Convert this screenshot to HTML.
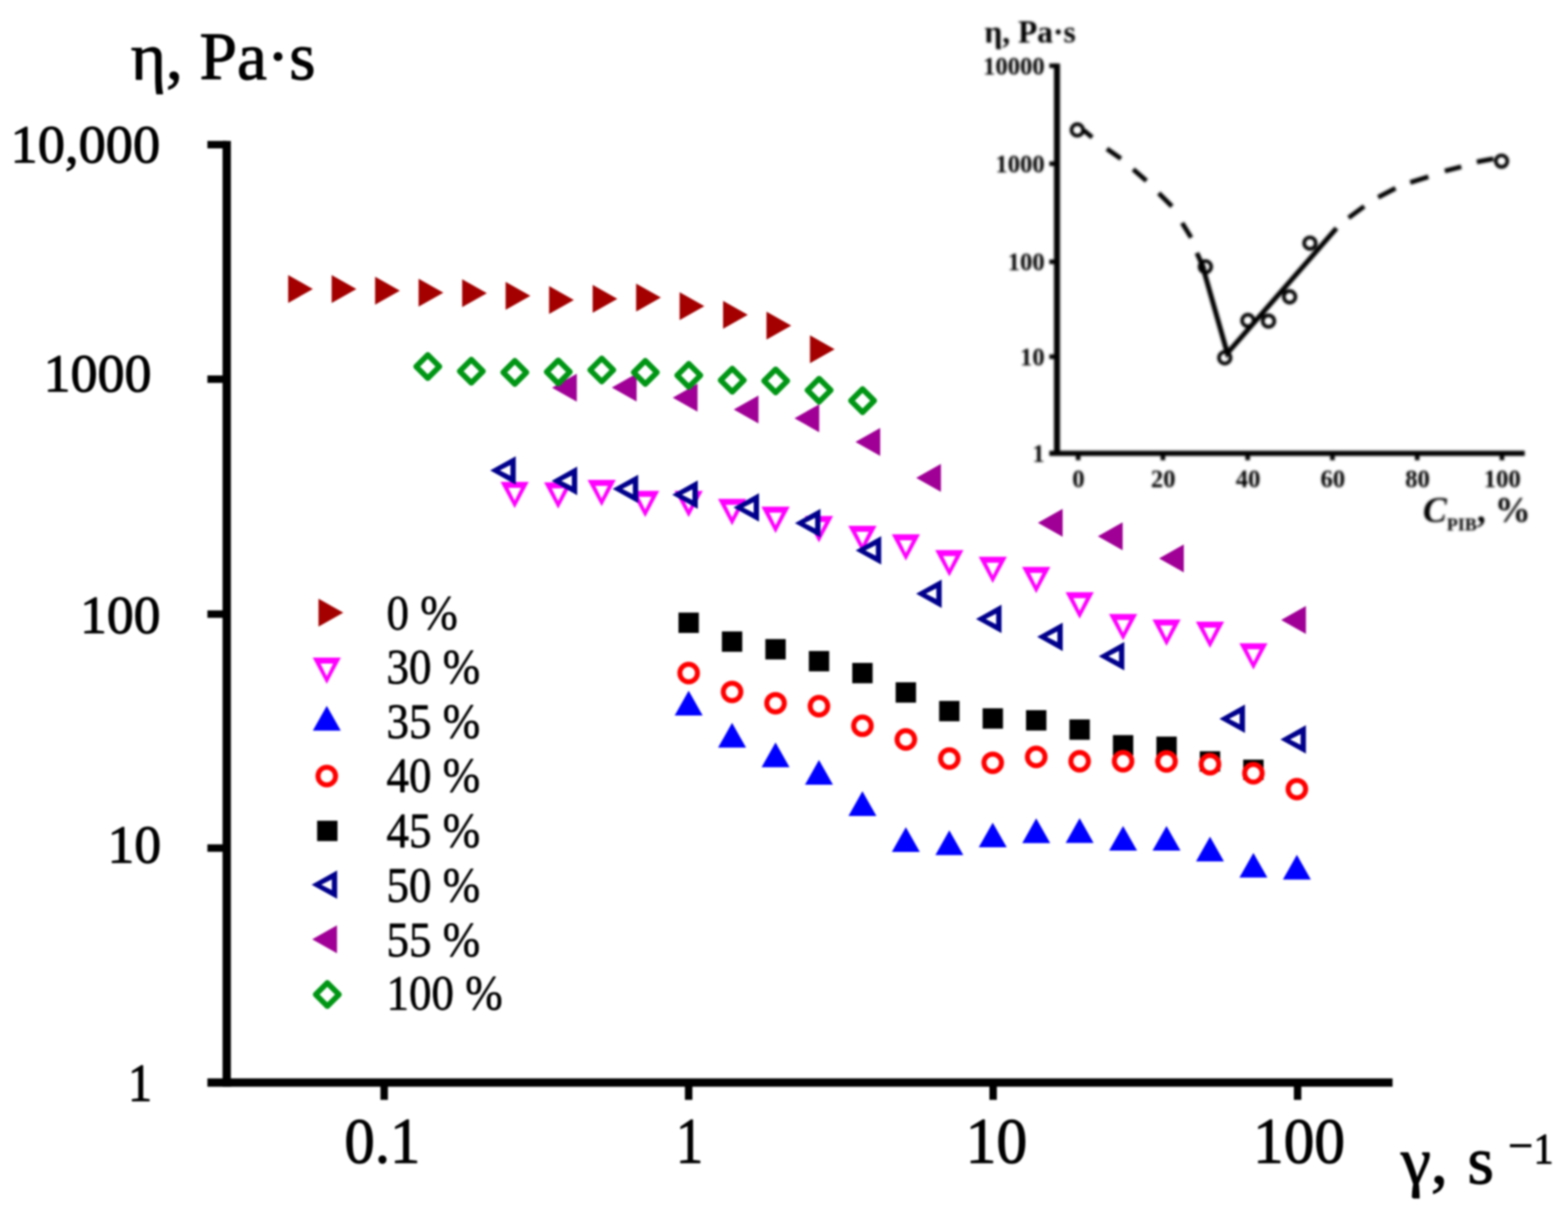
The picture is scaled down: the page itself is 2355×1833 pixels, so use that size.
<!DOCTYPE html>
<html lang="en"><head><meta charset="utf-8"><title>Viscosity vs shear rate</title>
<style>
html,body{margin:0;padding:0;background:#fff;}
body{width:2355px;height:1833px;overflow:hidden;}
svg{display:block;}
text{font-family:"Liberation Serif","DejaVu Serif",serif;fill:#000;}
.b{font-weight:bold;}
#labels text{stroke:#000;stroke-width:1.5px;stroke-linejoin:round;}
#legend text{stroke:#000;stroke-width:0.9px;stroke-linejoin:round;}
.i{font-style:italic;}
</style></head><body>
<svg width="2355" height="1833" viewBox="0 0 2355 1833" role="img" aria-label="Viscosity versus shear rate for different PIB concentrations">
<rect width="2355" height="1833" fill="#fff"/>
<defs><filter id="soft" filterUnits="userSpaceOnUse" x="0" y="0" width="2355" height="1833" color-interpolation-filters="sRGB"><feGaussianBlur stdDeviation="1.6"/></filter><filter id="soft2" filterUnits="userSpaceOnUse" x="1440" y="0" width="915" height="830" color-interpolation-filters="sRGB"><feGaussianBlur stdDeviation="1.7"/></filter></defs>
<g id="all" filter="url(#soft)">
<g id="axes" stroke="#000" stroke-width="12.5" fill="none">
<path d="M340.5 211.7 V1632.8"/>
<path d="M311.5 1626.6 H2091.5"/>
<path stroke-width="11.2" d="M311.5 217.3 H340.5"/>
<path stroke-width="11.2" d="M311.5 569.7 H340.5"/>
<path stroke-width="11.2" d="M311.5 922.7 H340.5"/>
<path stroke-width="11.2" d="M311.5 1274.2 H340.5"/>
<path stroke-width="11.2" d="M577.0 1626.6 V1652.5"/>
<path stroke-width="11.2" d="M1034.3 1626.6 V1652.5"/>
<path stroke-width="11.2" d="M1491.6 1626.6 V1652.5"/>
<path stroke-width="11.2" d="M1948.9 1626.6 V1652.5"/>
</g>
<g id="labels">
<text x="196.5" y="119.0" font-size="101.0" text-anchor="start">η, Pa·s</text>
<text x="0.0" y="0.0" font-size="80.5" text-anchor="end" transform="translate(240.5 244.0) scale(1.0150 1)">10,000</text>
<text x="227.5" y="588.3" font-size="81.0" text-anchor="end">1000</text>
<text x="241.0" y="951.0" font-size="80.5" text-anchor="end">100</text>
<text x="242.0" y="1295.5" font-size="80.5" text-anchor="end">10</text>
<text x="0.0" y="0.0" font-size="80.5" text-anchor="end" transform="translate(228.5 1653.8) scale(0.9000 1)">1</text>
<text x="0.0" y="0.0" font-size="97.0" text-anchor="middle" transform="translate(574.3 1747.3) scale(0.9400 1)">0.1</text>
<text x="0.0" y="0.0" font-size="97.0" text-anchor="middle" transform="translate(1035.5 1747.3) scale(0.8500 1)">1</text>
<text x="0.0" y="0.0" font-size="97.0" text-anchor="middle" transform="translate(1496.5 1747.3) scale(0.9550 1)">10</text>
<text x="0.0" y="0.0" font-size="97.0" text-anchor="middle" transform="translate(1951.0 1747.3) scale(0.9500 1)">100</text>
<text x="2104.0" y="1777.5" font-size="102.0" text-anchor="start">γ,</text>
<text x="2204.0" y="1777.5" font-size="102.0" text-anchor="start">s</text>
<text x="2283.8" y="1743.0" font-size="66.0" text-anchor="middle">−</text>
<text x="0.0" y="0.0" font-size="66.0" text-anchor="middle" transform="translate(2318.3 1747.5) scale(0.9000 1)">1</text>
</g>
<g id="legend">
<polygon points="478.4,899.5 478.4,941.5 515.6,920.5" fill="#a40000"/>
<text transform="translate(580.5 946.2) scale(0.925 1)" font-size="73.0">0 %</text>
<polygon points="469.7,988.0 511.9,988.0 490.8,1027.6" fill="#ff00ff"/><polygon points="481.4,997.0 500.2,997.0 490.8,1016.0" fill="#fff"/>
<text transform="translate(580.5 1026.7) scale(0.925 1)" font-size="73.0">30 %</text>
<polygon points="469.8,1097.7 511.8,1097.7 490.8,1060.5" fill="#0000ff"/>
<text transform="translate(580.5 1109.2) scale(0.925 1)" font-size="73.0">35 %</text>
<circle cx="490.8" cy="1166.0" r="13.2" fill="#fff" stroke="#ff0000" stroke-width="7.5"/>
<text transform="translate(580.5 1189.7) scale(0.925 1)" font-size="73.0">40 %</text>
<rect x="476.3" y="1233.1" width="30.6" height="30.6" fill="#000000"/>
<text transform="translate(580.5 1272.6) scale(0.925 1)" font-size="73.0">45 %</text>
<polygon points="506.4,1307.8 506.4,1350.6 468.0,1329.2" fill="#00008c"/><polygon points="498.4,1321.2 498.4,1337.2 482.6,1329.2" fill="#fff"/>
<text transform="translate(580.5 1354.6) scale(0.925 1)" font-size="73.0">50 %</text>
<polygon points="506.1,1390.2 506.1,1432.2 468.9,1411.2" fill="#a00096"/>
<text transform="translate(580.5 1436.5) scale(0.925 1)" font-size="73.0">55 %</text>
<polygon points="474.1,1494.2 491.6,1476.7 509.1,1494.2 491.6,1511.7" fill="#fff" stroke="#009614" stroke-width="8.3" stroke-linejoin="round"/>
<text transform="translate(580.5 1516.6) scale(0.925 1)" font-size="73.0">100 %</text>
</g>
<g id="data">
<g id="s45">
<rect x="1019.0" y="920.4" width="30.6" height="30.6" fill="#000000"/>
<rect x="1084.2" y="948.7" width="30.6" height="30.6" fill="#000000"/>
<rect x="1149.5" y="960.2" width="30.6" height="30.6" fill="#000000"/>
<rect x="1214.8" y="978.1" width="30.6" height="30.6" fill="#000000"/>
<rect x="1280.0" y="996.0" width="30.6" height="30.6" fill="#000000"/>
<rect x="1345.2" y="1025.1" width="30.6" height="30.6" fill="#000000"/>
<rect x="1410.5" y="1053.1" width="30.6" height="30.6" fill="#000000"/>
<rect x="1475.8" y="1064.2" width="30.6" height="30.6" fill="#000000"/>
<rect x="1541.0" y="1067.0" width="30.6" height="30.6" fill="#000000"/>
<rect x="1606.2" y="1080.9" width="30.6" height="30.6" fill="#000000"/>
<rect x="1671.5" y="1104.5" width="30.6" height="30.6" fill="#000000"/>
<rect x="1736.8" y="1106.7" width="30.6" height="30.6" fill="#000000"/>
<rect x="1802.0" y="1128.7" width="30.6" height="30.6" fill="#000000"/>
<rect x="1867.2" y="1141.3" width="30.6" height="30.6" fill="#000000"/>
</g>
<g id="s40">
<circle cx="1034.3" cy="1011.3" r="13.2" fill="#fff" stroke="#ff0000" stroke-width="7.5"/>
<circle cx="1099.5" cy="1039.6" r="13.2" fill="#fff" stroke="#ff0000" stroke-width="7.5"/>
<circle cx="1164.8" cy="1056.6" r="13.2" fill="#fff" stroke="#ff0000" stroke-width="7.5"/>
<circle cx="1230.0" cy="1061.0" r="13.2" fill="#fff" stroke="#ff0000" stroke-width="7.5"/>
<circle cx="1295.3" cy="1090.4" r="13.2" fill="#fff" stroke="#ff0000" stroke-width="7.5"/>
<circle cx="1360.5" cy="1111.0" r="13.2" fill="#fff" stroke="#ff0000" stroke-width="7.5"/>
<circle cx="1425.8" cy="1139.8" r="13.2" fill="#fff" stroke="#ff0000" stroke-width="7.5"/>
<circle cx="1491.0" cy="1146.1" r="13.2" fill="#fff" stroke="#ff0000" stroke-width="7.5"/>
<circle cx="1556.3" cy="1137.3" r="13.2" fill="#fff" stroke="#ff0000" stroke-width="7.5"/>
<circle cx="1621.5" cy="1143.7" r="13.2" fill="#fff" stroke="#ff0000" stroke-width="7.5"/>
<circle cx="1686.8" cy="1143.7" r="13.2" fill="#fff" stroke="#ff0000" stroke-width="7.5"/>
<circle cx="1752.0" cy="1144.0" r="13.2" fill="#fff" stroke="#ff0000" stroke-width="7.5"/>
<circle cx="1817.3" cy="1148.2" r="13.2" fill="#fff" stroke="#ff0000" stroke-width="7.5"/>
<circle cx="1882.5" cy="1161.7" r="13.2" fill="#fff" stroke="#ff0000" stroke-width="7.5"/>
<circle cx="1947.8" cy="1185.6" r="13.2" fill="#fff" stroke="#ff0000" stroke-width="7.5"/>
</g>
<g id="s35">
<polygon points="1013.3,1074.9 1055.3,1074.9 1034.3,1037.7" fill="#0000ff"/>
<polygon points="1078.5,1123.3 1120.5,1123.3 1099.5,1086.1" fill="#0000ff"/>
<polygon points="1143.8,1152.7 1185.8,1152.7 1164.8,1115.5" fill="#0000ff"/>
<polygon points="1209.0,1179.0 1251.0,1179.0 1230.0,1141.8" fill="#0000ff"/>
<polygon points="1274.3,1226.0 1316.3,1226.0 1295.3,1188.8" fill="#0000ff"/>
<polygon points="1339.5,1279.9 1381.5,1279.9 1360.5,1242.7" fill="#0000ff"/>
<polygon points="1404.8,1284.8 1446.8,1284.8 1425.8,1247.6" fill="#0000ff"/>
<polygon points="1470.0,1273.1 1512.0,1273.1 1491.0,1235.9" fill="#0000ff"/>
<polygon points="1535.3,1266.8 1577.3,1266.8 1556.3,1229.6" fill="#0000ff"/>
<polygon points="1600.5,1266.5 1642.5,1266.5 1621.5,1229.3" fill="#0000ff"/>
<polygon points="1665.8,1278.1 1707.8,1278.1 1686.8,1240.9" fill="#0000ff"/>
<polygon points="1731.0,1278.1 1773.0,1278.1 1752.0,1240.9" fill="#0000ff"/>
<polygon points="1796.3,1294.3 1838.3,1294.3 1817.3,1257.1" fill="#0000ff"/>
<polygon points="1861.5,1318.6 1903.5,1318.6 1882.5,1281.4" fill="#0000ff"/>
<polygon points="1926.8,1321.5 1968.8,1321.5 1947.8,1284.3" fill="#0000ff"/>
</g>
<g id="s30">
<polygon points="751.8,724.0 794.1,724.0 773.0,763.6" fill="#ff00ff"/><polygon points="763.6,733.0 782.4,733.0 773.0,752.0" fill="#fff"/>
<polygon points="817.2,724.7 859.5,724.7 838.3,764.3" fill="#ff00ff"/><polygon points="828.9,733.7 847.7,733.7 838.3,752.7" fill="#fff"/>
<polygon points="882.5,721.0 924.8,721.0 903.6,760.6" fill="#ff00ff"/><polygon points="894.2,730.0 913.0,730.0 903.6,749.0" fill="#fff"/>
<polygon points="947.8,737.5 990.1,737.5 969.0,777.1" fill="#ff00ff"/><polygon points="959.6,746.5 978.4,746.5 969.0,765.5" fill="#fff"/>
<polygon points="1013.1,737.5 1055.5,737.5 1034.3,777.1" fill="#ff00ff"/><polygon points="1024.9,746.5 1043.7,746.5 1034.3,765.5" fill="#fff"/>
<polygon points="1078.4,749.6 1120.7,749.6 1099.5,789.2" fill="#ff00ff"/><polygon points="1090.1,758.6 1109.0,758.6 1099.5,777.6" fill="#fff"/>
<polygon points="1143.6,761.3 1186.0,761.3 1164.8,800.9" fill="#ff00ff"/><polygon points="1155.4,770.3 1174.2,770.3 1164.8,789.3" fill="#fff"/>
<polygon points="1208.9,775.3 1251.2,775.3 1230.0,814.9" fill="#ff00ff"/><polygon points="1220.6,784.3 1239.5,784.3 1230.0,803.3" fill="#fff"/>
<polygon points="1274.1,789.9 1316.5,789.9 1295.3,829.5" fill="#ff00ff"/><polygon points="1285.9,798.9 1304.7,798.9 1295.3,817.9" fill="#fff"/>
<polygon points="1339.4,802.7 1381.7,802.7 1360.5,842.3" fill="#ff00ff"/><polygon points="1351.1,811.7 1370.0,811.7 1360.5,830.7" fill="#fff"/>
<polygon points="1404.6,826.5 1447.0,826.5 1425.8,866.1" fill="#ff00ff"/><polygon points="1416.4,835.5 1435.2,835.5 1425.8,854.5" fill="#fff"/>
<polygon points="1469.9,836.4 1512.2,836.4 1491.0,876.0" fill="#ff00ff"/><polygon points="1481.6,845.4 1500.5,845.4 1491.0,864.4" fill="#fff"/>
<polygon points="1535.1,851.7 1577.5,851.7 1556.3,891.3" fill="#ff00ff"/><polygon points="1546.9,860.7 1565.7,860.7 1556.3,879.7" fill="#fff"/>
<polygon points="1600.4,889.8 1642.7,889.8 1621.5,929.4" fill="#ff00ff"/><polygon points="1612.1,898.8 1631.0,898.8 1621.5,917.8" fill="#fff"/>
<polygon points="1665.6,922.4 1708.0,922.4 1686.8,962.0" fill="#ff00ff"/><polygon points="1677.4,931.4 1696.2,931.4 1686.8,950.4" fill="#fff"/>
<polygon points="1730.9,930.8 1773.2,930.8 1752.0,970.4" fill="#ff00ff"/><polygon points="1742.6,939.8 1761.5,939.8 1752.0,958.8" fill="#fff"/>
<polygon points="1796.1,934.0 1838.5,934.0 1817.3,973.6" fill="#ff00ff"/><polygon points="1807.9,943.0 1826.7,943.0 1817.3,962.0" fill="#fff"/>
<polygon points="1861.4,966.4 1903.7,966.4 1882.5,1006.0" fill="#ff00ff"/><polygon points="1873.1,975.4 1892.0,975.4 1882.5,994.4" fill="#fff"/>
</g>
<g id="s0">
<polygon points="432.8,413.2 432.8,455.2 469.9,434.2" fill="#a40000"/>
<polygon points="498.1,413.2 498.1,455.2 535.3,434.2" fill="#a40000"/>
<polygon points="563.4,415.8 563.4,457.8 600.6,436.8" fill="#a40000"/>
<polygon points="628.7,418.7 628.7,460.7 665.9,439.7" fill="#a40000"/>
<polygon points="694.1,419.5 694.1,461.5 731.2,440.5" fill="#a40000"/>
<polygon points="759.4,423.5 759.4,465.5 796.6,444.5" fill="#a40000"/>
<polygon points="824.7,429.7 824.7,471.7 861.9,450.7" fill="#a40000"/>
<polygon points="890.1,427.9 890.1,469.9 927.2,448.9" fill="#a40000"/>
<polygon points="955.4,426.1 955.4,468.1 992.6,447.1" fill="#a40000"/>
<polygon points="1020.7,438.9 1020.7,480.9 1057.9,459.9" fill="#a40000"/>
<polygon points="1086.0,452.0 1086.0,494.0 1123.1,473.0" fill="#a40000"/>
<polygon points="1151.2,468.2 1151.2,510.2 1188.4,489.2" fill="#a40000"/>
<polygon points="1216.5,503.7 1216.5,545.7 1253.6,524.7" fill="#a40000"/>
</g>
<g id="s50">
<polygon points="774.6,685.4 774.6,728.2 736.2,706.8" fill="#00008c"/><polygon points="766.6,698.8 766.6,714.8 750.8,706.8" fill="#fff"/>
<polygon points="866.9,701.1 866.9,743.9 828.5,722.5" fill="#00008c"/><polygon points="858.9,714.5 858.9,730.5 843.1,722.5" fill="#fff"/>
<polygon points="958.5,713.2 958.5,756.0 920.1,734.6" fill="#00008c"/><polygon points="950.5,726.6 950.5,742.6 934.7,734.6" fill="#fff"/>
<polygon points="1048.0,721.8 1048.0,764.6 1009.6,743.2" fill="#00008c"/><polygon points="1040.0,735.2 1040.0,751.2 1024.2,743.2" fill="#fff"/>
<polygon points="1140.0,741.0 1140.0,783.8 1101.6,762.4" fill="#00008c"/><polygon points="1132.0,754.4 1132.0,770.4 1116.2,762.4" fill="#fff"/>
<polygon points="1232.3,764.5 1232.3,807.3 1193.9,785.9" fill="#00008c"/><polygon points="1224.3,777.9 1224.3,793.9 1208.5,785.9" fill="#fff"/>
<polygon points="1323.5,805.5 1323.5,848.3 1285.1,826.9" fill="#00008c"/><polygon points="1315.5,818.9 1315.5,834.9 1299.7,826.9" fill="#fff"/>
<polygon points="1414.3,870.7 1414.3,913.5 1375.9,892.1" fill="#00008c"/><polygon points="1406.3,884.1 1406.3,900.1 1390.5,892.1" fill="#fff"/>
<polygon points="1504.2,908.5 1504.2,951.3 1465.8,929.9" fill="#00008c"/><polygon points="1496.2,921.9 1496.2,937.9 1480.4,929.9" fill="#fff"/>
<polygon points="1596.1,935.4 1596.1,978.2 1557.7,956.8" fill="#00008c"/><polygon points="1588.1,948.8 1588.1,964.8 1572.3,956.8" fill="#fff"/>
<polygon points="1688.6,964.5 1688.6,1007.3 1650.2,985.9" fill="#00008c"/><polygon points="1680.6,977.9 1680.6,993.9 1664.8,985.9" fill="#fff"/>
<polygon points="1869.8,1058.5 1869.8,1101.3 1831.4,1079.9" fill="#00008c"/><polygon points="1861.8,1071.9 1861.8,1087.9 1846.0,1079.9" fill="#fff"/>
<polygon points="1961.4,1089.5 1961.4,1132.3 1923.0,1110.9" fill="#00008c"/><polygon points="1953.4,1102.9 1953.4,1118.9 1937.6,1110.9" fill="#fff"/>
</g>
<g id="s55">
<polygon points="866.3,561.5 866.3,603.5 829.1,582.5" fill="#a00096"/>
<polygon points="956.1,561.2 956.1,603.2 918.9,582.2" fill="#a00096"/>
<polygon points="1047.6,576.6 1047.6,618.6 1010.4,597.6" fill="#a00096"/>
<polygon points="1139.2,594.2 1139.2,636.2 1102.0,615.2" fill="#a00096"/>
<polygon points="1230.4,607.4 1230.4,649.4 1193.2,628.4" fill="#a00096"/>
<polygon points="1322.0,643.0 1322.0,685.0 1284.8,664.0" fill="#a00096"/>
<polygon points="1413.2,697.1 1413.2,739.1 1376.0,718.1" fill="#a00096"/>
<polygon points="1596.0,764.5 1596.0,806.5 1558.8,785.5" fill="#a00096"/>
<polygon points="1686.1,784.7 1686.1,826.7 1648.9,805.7" fill="#a00096"/>
<polygon points="1778.0,818.0 1778.0,860.0 1740.8,839.0" fill="#a00096"/>
<polygon points="1961.4,910.5 1961.4,952.5 1924.2,931.5" fill="#a00096"/>
</g>
<g id="s100">
<polygon points="625.0,550.7 642.5,533.2 660.0,550.7 642.5,568.2" fill="#fff" stroke="#009614" stroke-width="8.3" stroke-linejoin="round"/>
<polygon points="690.4,557.7 707.9,540.2 725.4,557.7 707.9,575.2" fill="#fff" stroke="#009614" stroke-width="8.3" stroke-linejoin="round"/>
<polygon points="755.7,559.5 773.2,542.0 790.7,559.5 773.2,577.0" fill="#fff" stroke="#009614" stroke-width="8.3" stroke-linejoin="round"/>
<polygon points="821.0,558.8 838.5,541.3 856.0,558.8 838.5,576.3" fill="#fff" stroke="#009614" stroke-width="8.3" stroke-linejoin="round"/>
<polygon points="886.3,555.9 903.8,538.4 921.3,555.9 903.8,573.4" fill="#fff" stroke="#009614" stroke-width="8.3" stroke-linejoin="round"/>
<polygon points="951.7,559.5 969.2,542.0 986.7,559.5 969.2,577.0" fill="#fff" stroke="#009614" stroke-width="8.3" stroke-linejoin="round"/>
<polygon points="1017.0,564.0 1034.5,546.5 1052.0,564.0 1034.5,581.5" fill="#fff" stroke="#009614" stroke-width="8.3" stroke-linejoin="round"/>
<polygon points="1082.2,571.2 1099.8,553.7 1117.2,571.2 1099.8,588.7" fill="#fff" stroke="#009614" stroke-width="8.3" stroke-linejoin="round"/>
<polygon points="1147.5,572.3 1165.0,554.8 1182.5,572.3 1165.0,589.8" fill="#fff" stroke="#009614" stroke-width="8.3" stroke-linejoin="round"/>
<polygon points="1212.8,586.3 1230.2,568.8 1247.8,586.3 1230.2,603.8" fill="#fff" stroke="#009614" stroke-width="8.3" stroke-linejoin="round"/>
<polygon points="1278.0,602.0 1295.5,584.5 1313.0,602.0 1295.5,619.5" fill="#fff" stroke="#009614" stroke-width="8.3" stroke-linejoin="round"/>
</g>
</g>
<g id="inset" filter="url(#soft2)">
<g stroke="#000" fill="none">
<path stroke-width="9" d="M1587.5 95.4 V685.0"/>
<path stroke-width="7.8" d="M1576.0 681.1 H2290.0"/>
<path stroke-width="6.8" d="M1576.0 98.8 H1587.5"/>
<path stroke-width="6.8" d="M1576.0 246.0 H1587.5"/>
<path stroke-width="6.8" d="M1576.0 393.3 H1587.5"/>
<path stroke-width="6.8" d="M1576.0 535.9 H1587.5"/>
<path stroke-width="6.8" d="M1619.3 681.1 V691.5"/>
<path stroke-width="6.8" d="M1746.6 681.1 V691.5"/>
<path stroke-width="6.8" d="M1873.9 681.1 V691.5"/>
<path stroke-width="6.8" d="M2001.2 681.1 V691.5"/>
<path stroke-width="6.8" d="M2128.5 681.1 V691.5"/>
<path stroke-width="6.8" d="M2255.8 681.1 V691.5"/>
</g>
<text class="b" x="1569.0" y="111.6" font-size="37.0" text-anchor="end">10000</text>
<text class="b" x="1569.0" y="258.8" font-size="37.0" text-anchor="end">1000</text>
<text class="b" x="1569.0" y="406.1" font-size="37.0" text-anchor="end">100</text>
<text class="b" x="1569.0" y="548.7" font-size="37.0" text-anchor="end">10</text>
<text class="b" x="1569.0" y="693.9" font-size="37.0" text-anchor="end">1</text>
<text class="b" x="1619.8" y="732.0" font-size="37.0" text-anchor="middle">0</text>
<text class="b" x="1747.1" y="732.0" font-size="37.0" text-anchor="middle">20</text>
<text class="b" x="1874.4" y="732.0" font-size="37.0" text-anchor="middle">40</text>
<text class="b" x="2001.7" y="732.0" font-size="37.0" text-anchor="middle">60</text>
<text class="b" x="2129.0" y="732.0" font-size="37.0" text-anchor="middle">80</text>
<text class="b" x="2256.3" y="732.0" font-size="37.0" text-anchor="middle">100</text>
<text class="b" transform="translate(1478.5 64.0) scale(0.975 1)" font-size="48.5">η, Pa·s</text>
<text class="b" x="2137.0" y="784.0" font-size="54"><tspan class="i">C</tspan><tspan font-size="27" dy="13">PIB</tspan><tspan dy="-13">, %</tspan></text>
<g stroke="#000" stroke-width="5.4" fill="#fff">
<circle cx="1618.0" cy="195.2" r="8.7"/>
<circle cx="1810.4" cy="400.8" r="8.7"/>
<circle cx="1839.5" cy="537.5" r="8.7"/>
<circle cx="1874.2" cy="481.5" r="8.7"/>
<circle cx="1905.2" cy="482.4" r="8.7"/>
<circle cx="1936.9" cy="446.0" r="8.7"/>
<circle cx="1967.4" cy="365.3" r="8.7"/>
<circle cx="2255.2" cy="242.1" r="8.7"/>
</g>
<g stroke="#000" stroke-width="7" fill="none">
<path d="M1627.9 195.8 L1640.3 206.3 M1662.5 223.6 L1683.5 238.4 M1702.0 254.4 L1721.8 271.7 M1740.3 290.3 L1760.1 310.0 M1775.5 335.0 L1789.0 357.0 M1797.6 380.0 L1808.6 404.5"/>
<path d="M1804.5 394.0 L1843.3 530.6 L2007.3 342.9" stroke-width="7.4" stroke-linejoin="miter"/>
<path d="M2025.5 327.3 L2048.9 310.0 M2069.9 296.4 L2095.9 282.9 M2118.1 274.2 L2145.3 265.6 M2170.0 256.9 L2194.7 250.7 M2218.1 243.3 L2243.0 238.6"/>
</g>
</g>
</g>
</svg>
</body></html>
